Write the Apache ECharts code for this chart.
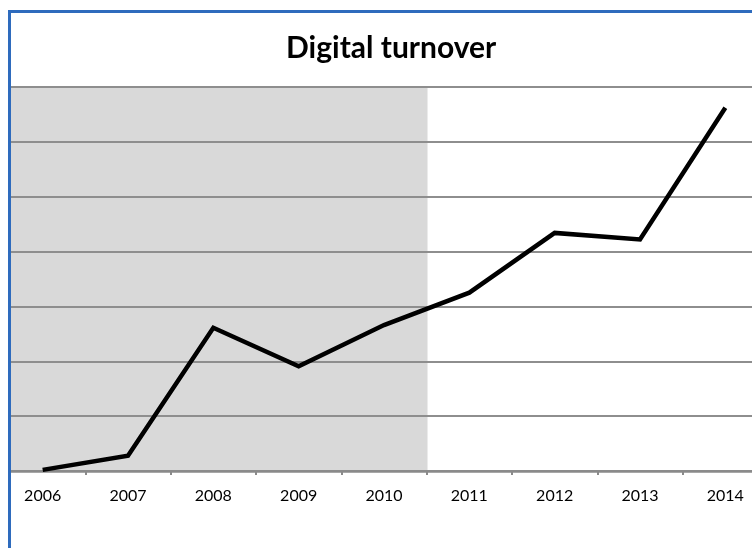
<!DOCTYPE html>
<html>
<head>
<meta charset="utf-8">
<script src="https://cdn.jsdelivr.net/npm/echarts@6/dist/echarts.min.js"></script>
<style>
html,body{margin:0;padding:0;background:#fff;}
#chart{width:752px;height:548px;}
</style>
</head>
<body>
<div id="chart"></div>
<script>
const years = ['2006','2007','2008','2009','2010','2011','2012','2013','2014'];
const turnover = [0.02, 0.28, 2.61, 1.91, 2.66, 3.25, 4.34, 4.22, 6.62];
const shadedPeriod = [7, 7, 7, 7, 7, null, null, null, null];
const yMin = 0, yMax = 7, yStep = 1;

const chart = echarts.init(document.getElementById('chart'), null, {renderer:'canvas'});
chart.setOption({
  animation: false,
  backgroundColor: '#fff',
  title: {
    text: 'Digital turnover',
    left: 281,
    top: 28,
    textStyle: {fontFamily: 'Lato', fontWeight: 'bold', fontSize: 30, color: '#000'}
  },
  grid: {left: 0, width: 768, top: 87, bottom: 77, containLabel: false, outerBoundsMode: 'none'},
  xAxis: {
    type: 'category',
    data: years,
    boundaryGap: true,
    axisLine: {show: true, lineStyle: {color: '#8a8a8a', width: 2.5}},
    axisTick: {show: true, length: 4, lineStyle: {color: '#8a8a8a', width: 2}},
    axisLabel: {fontFamily: 'Lato', fontSize: 16, color: '#000', margin: 17},
    splitLine: {show: false}
  },
  yAxis: {
    type: 'value',
    min: yMin, max: yMax, interval: yStep,
    axisLine: {show: false},
    axisTick: {show: false},
    axisLabel: {show: false},
    splitLine: {show: true, lineStyle: {color: '#8e8e8e', width: 2}}
  },
  series: [
    {
      type: 'bar',
      data: shadedPeriod,
      barWidth: '102%',
      barGap: '-100%',
      itemStyle: {color: '#d9d9d9'},
      z: -1,
      silent: true
    },
    {
      type: 'line',
      data: turnover,
      symbol: 'none',
      lineStyle: {color: '#000', width: 4.5, join: 'miter'},
      z: 5
    }
  ],
  graphic: [
    {type: 'rect', shape: {x: 0, y: 0, width: 8, height: 548}, style: {fill: '#fff'}, z: 100},
    {type: 'rect', shape: {x: 0, y: 0, width: 752, height: 10}, style: {fill: '#fff'}, z: 100},
    {type: 'rect', shape: {x: 8, y: 10, width: 3, height: 538}, style: {fill: '#2e6bbd'}, z: 101},
    {type: 'rect', shape: {x: 8, y: 10, width: 744, height: 3}, style: {fill: '#2e6bbd'}, z: 101}
  ]
});
</script>
</body>
</html>
